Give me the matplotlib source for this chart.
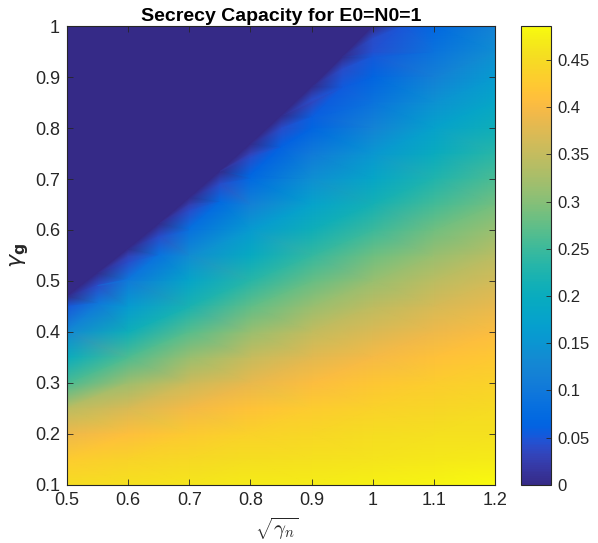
import numpy as np
import matplotlib
matplotlib.use("Agg")
import matplotlib.pyplot as plt
import matplotlib.tri as mtri
from matplotlib.colors import LinearSegmentedColormap

# sqrt(gamma_n) columns and gamma_g rows of the capacity table
sqrt_gamma_n = [0.5, 0.6, 0.7, 0.8, 0.9, 1.0, 1.1, 1.2]
gamma_g = [0.10, 0.15, 0.20, 0.25, 0.30, 0.35, 0.40, 0.45, 0.50, 0.55,
           0.60, 0.65, 0.70, 0.75, 0.80, 0.85, 0.90, 0.95, 1.00]

# secrecy capacity (0 = dark region)
capacity = [
    [0.452, 0.459, 0.465, 0.469, 0.472, 0.475, 0.480, 0.486],
    [0.428, 0.440, 0.448, 0.455, 0.459, 0.463, 0.466, 0.469],
    [0.390, 0.410, 0.427, 0.438, 0.446, 0.452, 0.457, 0.459],
    [0.342, 0.370, 0.396, 0.415, 0.428, 0.438, 0.444, 0.450],
    [0.260, 0.318, 0.358, 0.385, 0.405, 0.420, 0.430, 0.438],
    [0.200, 0.263, 0.315, 0.352, 0.378, 0.398, 0.412, 0.423],
    [0.130, 0.207, 0.269, 0.315, 0.348, 0.372, 0.391, 0.405],
    [0.050, 0.161, 0.222, 0.274, 0.315, 0.345, 0.367, 0.385],
    [0.000, 0.103, 0.181, 0.234, 0.279, 0.315, 0.342, 0.363],
    [0.000, 0.030, 0.136, 0.195, 0.243, 0.283, 0.315, 0.340],
    [0.000, 0.000, 0.086, 0.161, 0.207, 0.250, 0.286, 0.315],
    [0.000, 0.000, 0.025, 0.117, 0.176, 0.216, 0.256, 0.288],
    [0.000, 0.000, 0.000, 0.073, 0.142, 0.183, 0.227, 0.261],
    [0.000, 0.000, 0.000, 0.030, 0.103, 0.152, 0.198, 0.234],
    [0.000, 0.000, 0.000, 0.000, 0.066, 0.120, 0.173, 0.207],
    [0.000, 0.000, 0.000, 0.000, 0.035, 0.090, 0.146, 0.184],
    [0.000, 0.000, 0.000, 0.000, 0.000, 0.065, 0.114, 0.161],
    [0.000, 0.000, 0.000, 0.000, 0.000, 0.045, 0.090, 0.140],
    [0.000, 0.000, 0.000, 0.000, 0.000, 0.000, 0.070, 0.118],
]

# where the capacity drops to zero (edge of the dark region)
edge_x = [0.50, 0.55, 0.60, 0.65, 0.70, 0.75, 0.80, 0.85, 0.90, 0.95, 1.00]
edge_y = [0.470, 0.516, 0.563, 0.612, 0.663, 0.715, 0.769, 0.824, 0.881, 0.940, 1.000]

# readings just inside the edge (dark -> blue) ...
near_x = [0.55, 0.60, 0.65, 0.70, 0.75, 0.80, 0.85, 0.90, 0.95, 1.00, 1.05]
near_y = [0.491, 0.538, 0.587, 0.638, 0.690, 0.744, 0.799, 0.856, 0.915, 0.975, 1.000]
near_c = [0.040, 0.040, 0.040, 0.040, 0.040, 0.040, 0.040, 0.040, 0.040, 0.040, 0.050]

# ... and along the bright blue band a little further in
band_x = [0.55, 0.60, 0.65, 0.70, 0.75, 0.80, 0.85, 0.90, 0.95, 1.00]
band_y = [0.456, 0.503, 0.552, 0.603, 0.655, 0.709, 0.764, 0.821, 0.880, 0.940]
band_c = [0.100, 0.095, 0.088, 0.082, 0.075, 0.068, 0.062, 0.058, 0.055, 0.052]

x_ticks = [0.5, 0.6, 0.7, 0.8, 0.9, 1.0, 1.1, 1.2]
x_tick_labels = ["0.5", "0.6", "0.7", "0.8", "0.9", "1", "1.1", "1.2"]
y_ticks = [0.1, 0.2, 0.3, 0.4, 0.5, 0.6, 0.7, 0.8, 0.9, 1.0]
y_tick_labels = ["0.1", "0.2", "0.3", "0.4", "0.5", "0.6", "0.7", "0.8", "0.9", "1"]
cb_ticks = [0, 0.05, 0.1, 0.15, 0.2, 0.25, 0.3, 0.35, 0.4, 0.45]
cb_tick_labels = ["0", "0.05", "0.1", "0.15", "0.2", "0.25", "0.3", "0.35", "0.4", "0.45"]

# MATLAB parula
parula_rgb = [
    [0.2081, 0.1663, 0.5292], [0.2116, 0.1898, 0.5777], [0.2123, 0.2138, 0.6270],
    [0.2081, 0.2386, 0.6771], [0.1959, 0.2645, 0.7279], [0.1707, 0.2919, 0.7792],
    [0.1253, 0.3242, 0.8303], [0.0591, 0.3598, 0.8683], [0.0117, 0.3875, 0.8820],
    [0.0060, 0.4086, 0.8828], [0.0165, 0.4266, 0.8786], [0.0329, 0.4430, 0.8720],
    [0.0498, 0.4586, 0.8641], [0.0629, 0.4737, 0.8554], [0.0723, 0.4887, 0.8467],
    [0.0779, 0.5040, 0.8384], [0.0793, 0.5200, 0.8312], [0.0749, 0.5375, 0.8263],
    [0.0641, 0.5570, 0.8240], [0.0488, 0.5772, 0.8228], [0.0343, 0.5966, 0.8199],
    [0.0265, 0.6137, 0.8135], [0.0239, 0.6287, 0.8038], [0.0231, 0.6418, 0.7913],
    [0.0228, 0.6535, 0.7768], [0.0267, 0.6642, 0.7607], [0.0384, 0.6743, 0.7436],
    [0.0590, 0.6838, 0.7254], [0.0843, 0.6928, 0.7062], [0.1133, 0.7015, 0.6859],
    [0.1453, 0.7098, 0.6646], [0.1801, 0.7177, 0.6424], [0.2178, 0.7250, 0.6193],
    [0.2586, 0.7317, 0.5954], [0.3022, 0.7376, 0.5712], [0.3482, 0.7424, 0.5473],
    [0.3953, 0.7459, 0.5244], [0.4420, 0.7481, 0.5033], [0.4871, 0.7491, 0.4840],
    [0.5300, 0.7491, 0.4661], [0.5709, 0.7485, 0.4494], [0.6099, 0.7473, 0.4337],
    [0.6473, 0.7456, 0.4188], [0.6834, 0.7435, 0.4044], [0.7184, 0.7411, 0.3905],
    [0.7525, 0.7384, 0.3768], [0.7858, 0.7356, 0.3633], [0.8185, 0.7327, 0.3498],
    [0.8507, 0.7299, 0.3360], [0.8824, 0.7274, 0.3217], [0.9139, 0.7258, 0.3063],
    [0.9450, 0.7261, 0.2886], [0.9739, 0.7314, 0.2666], [0.9938, 0.7455, 0.2403],
    [0.9990, 0.7653, 0.2164], [0.9955, 0.7861, 0.1967], [0.9880, 0.8066, 0.1794],
    [0.9789, 0.8271, 0.1633], [0.9697, 0.8481, 0.1475], [0.9626, 0.8705, 0.1309],
    [0.9589, 0.8949, 0.1132], [0.9598, 0.9218, 0.0948], [0.9661, 0.9514, 0.0755],
    [0.9763, 0.9831, 0.0538],
]
parula = LinearSegmentedColormap.from_list("parula", parula_rgb, N=256)

plt.rcParams['font.family'] = ['Liberation Sans', 'DejaVu Sans']
edge_color = '#262626'

fig = plt.figure(figsize=(5.98, 5.43), dpi=100)
ax = fig.add_axes([0.112, 0.107, 0.716, 0.845])
cax = fig.add_axes([0.871, 0.107, 0.050, 0.845])

# table points above zero, the zero edge and the readings next to it
xx, yy = np.meshgrid(sqrt_gamma_n, gamma_g)
zz = np.array(capacity)
keep = zz > 0
px = np.concatenate([xx[keep], edge_x, near_x, band_x])
py = np.concatenate([yy[keep], edge_y, near_y, band_y])
pz = np.concatenate([zz[keep], np.zeros(len(edge_x)), near_c, band_c])
tri = mtri.Triangulation(px, py)

vmax = zz.max()
ax.set_facecolor(parula(0.0))
mesh = ax.tripcolor(tri, pz, shading='gouraud', cmap=parula, vmin=0, vmax=vmax,
                    antialiased=False)

ax.set_xlim(0.5, 1.2)
ax.set_ylim(0.1, 1.0)
ax.set_xticks(x_ticks)
ax.set_xticklabels(x_tick_labels)
ax.set_yticks(y_ticks)
ax.set_yticklabels(y_tick_labels)
ax.tick_params(direction='in', length=4, width=0.6, color=edge_color,
               labelcolor=edge_color, labelsize=13, top=True, right=True, pad=5)
for sp in ax.spines.values():
    sp.set_color(edge_color)
    sp.set_linewidth(0.8)

ax.set_title('Secrecy Capacity for E0=N0=1', fontsize=14, fontweight='bold',
             color='black', pad=4)
ax.set_xlabel(r'$\sqrt{\gamma_n}$', fontsize=15, math_fontfamily='cm', color=edge_color)
ax.xaxis.set_label_coords(0.49, -0.095)
ax.xaxis.label.set_va('center')
ax.set_ylabel(r'$\gamma_{\mathbf{g}}$', fontsize=16, color=edge_color, rotation=90)
ax.yaxis.set_label_coords(-0.11, 0.5)
ax.yaxis.label.set_va('center')

cb = fig.colorbar(mesh, cax=cax)
cb.set_ticks(cb_ticks)
cb.set_ticklabels(cb_tick_labels)
cb.ax.tick_params(direction='in', length=3.5, width=0.6, color=edge_color,
                  labelcolor=edge_color, labelsize=12, pad=5)
cb.outline.set_edgecolor(edge_color)
cb.outline.set_linewidth(0.8)

fig.savefig('out.png', dpi=100)
